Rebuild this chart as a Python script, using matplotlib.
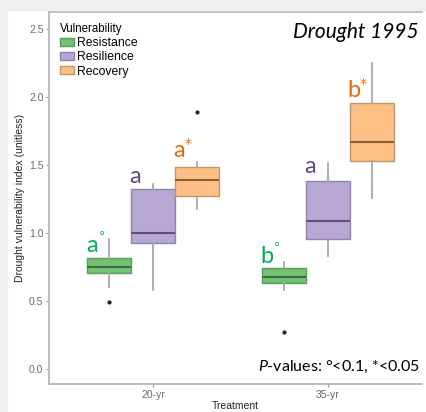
import matplotlib
matplotlib.use('Agg')
import matplotlib.pyplot as plt
from matplotlib.patches import Patch

plt.rcParams['font.family'] = ['Liberation Sans', 'DejaVu Sans']
plt.rcParams['mathtext.fontset'] = 'custom'
plt.rcParams['mathtext.it'] = 'Lato:italic'
plt.rcParams['mathtext.rm'] = 'Lato'

# Box statistics (whisker low, q1, median, q3, whisker high)
treatments = ['20-yr', '35-yr']
groups = ['Resistance', 'Resilience', 'Recovery']

whislo = [[0.60, 0.58, 1.18], [0.58, 0.83, 1.26]]
q1 = [[0.705, 0.93, 1.27], [0.63, 0.955, 1.53]]
med = [[0.75, 1.00, 1.39], [0.68, 1.09, 1.67]]
q3 = [[0.815, 1.32, 1.485], [0.745, 1.38, 1.955]]
whishi = [[0.955, 1.36, 1.52], [0.79, 1.515, 2.25]]
fliers = [[[0.49], [], [1.89]], [[0.27], [], []]]

# significance letters and their heights
letters = [['a', 'a', 'a'], ['b', 'a', 'b']]
marks = [['°', '', '*'], ['°', '', '*']]
label_y = [[0.86, 1.37, 1.56], [0.78, 1.44, 2.00]]

fills = ['#74c174', '#b6a7d4', '#fdbf85']
edges = ['#5e9a5e', '#8f83a8', '#c29668']
medians = ['#3e6e3e', '#5e4f7a', '#8a5f33']
text_cols = ['#00b050', '#604a7b', '#e46c0a']

fig = plt.figure(figsize=(4.27, 4.12), dpi=100, facecolor='white')
# grey frame of the screenshot
fig.patches.append(plt.Rectangle((0, 0), 7 / 427, 1, transform=fig.transFigure,
                                 color='#efefef', zorder=0))
fig.patches.append(plt.Rectangle((0, 1 - 10 / 412), 1, 10 / 412, transform=fig.transFigure,
                                 color='#efefef', zorder=0))

ax = fig.add_axes([49 / 427, 28 / 412, 373 / 427, 372 / 412])

width = 0.25
for i, t in enumerate(treatments):
    for j, g in enumerate(groups):
        pos = i + 1 + (j - 1) * width
        st = dict(whislo=whislo[i][j], q1=q1[i][j], med=med[i][j], q3=q3[i][j],
                  whishi=whishi[i][j], fliers=fliers[i][j])
        ax.bxp([st], positions=[pos], widths=width, patch_artist=True, showcaps=False,
               boxprops=dict(facecolor=fills[j], edgecolor=edges[j], linewidth=1.0),
               medianprops=dict(color=medians[j], linewidth=1.5),
               whiskerprops=dict(color='#a9a9a9', linewidth=1.3),
               flierprops=dict(marker='o', markersize=2, markerfacecolor='#222222',
                               markeredgecolor='#222222'))
        lx = pos - 0.1
        ly = label_y[i][j]
        ax.text(lx, ly, letters[i][j], color=text_cols[j], fontsize=17,
                family='Lato', ha='center', va='baseline')
        m = marks[i][j]
        if m:
            off = (5, 8.5) if m == '°' else (3.5, 6.5)
            ax.annotate(m, xy=(lx, ly), xytext=off, textcoords='offset points',
                        color=text_cols[j], fontsize=9 if m == '°' else 10,
                        family='DejaVu Sans', ha='left', va='baseline')

ax.set_xlim(0.406, 2.537)
ax.set_ylim(-0.11, 2.625)
ax.set_xticks([1, 2])
ax.set_xticklabels(treatments)
ax.set_yticks([0.0, 0.5, 1.0, 1.5, 2.0, 2.5])
ax.set_yticklabels(['0.0', '0.5', '1.0', '1.5', '2.0', '2.5'])
ax.tick_params(colors='#9a9a9a', labelcolor='#6a6a6a', labelsize=7.5, length=2.5,
               width=0.8, pad=1.5)

for s in ['left', 'bottom', 'top']:
    ax.spines[s].set_color('#b0b0b0')
    ax.spines[s].set_linewidth(1.2)
ax.spines['right'].set_visible(False)

ax.set_xlabel('Treatment', fontsize=7.5, color='#222222', labelpad=1)
ax.set_ylabel('Drought vulnerability index (unitless)', fontsize=7.5, color='#222222',
              labelpad=3)

ax.text(0.99, 0.972, 'Drought 1995', transform=ax.transAxes, ha='right', va='top',
        fontsize=15, style='italic', family='Lato', color='black')
ax.text(0.995, 0.045, r'$\it{P}$-values: °<0.1, *<0.05', transform=ax.transAxes,
        ha='right', va='center', fontsize=11.5, family='Lato', color='black')

handles = [Patch(facecolor=fills[k], edgecolor=edges[k], label=groups[k]) for k in range(3)]
leg = ax.legend(handles=handles, title='Vulnerability', loc='upper left',
                bbox_to_anchor=(0.01, 0.99), frameon=False, fontsize=8.8, title_fontsize=8.3,
                handlelength=1.1, handleheight=0.65, handletextpad=0.3, labelspacing=0.18,
                borderaxespad=0.2)
leg._legend_box.align = 'left'

plt.savefig('out.png', dpi=100)
